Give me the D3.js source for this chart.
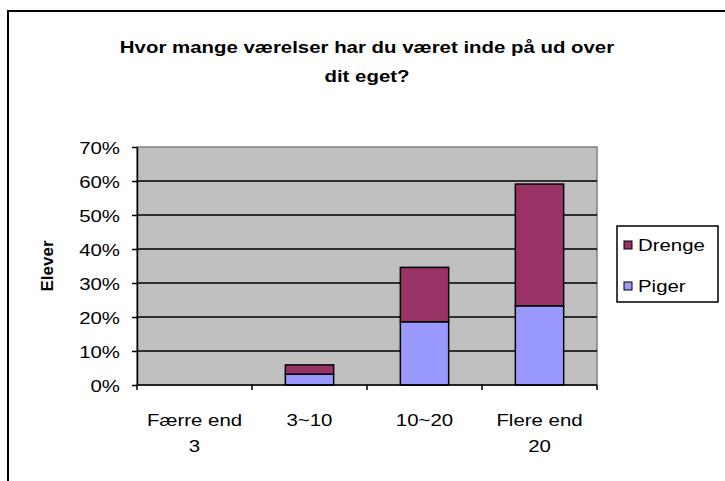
<!DOCTYPE html>
<html>
<head>
<meta charset="utf-8">
<script src="https://d3js.org/d3.v7.min.js"></script>
<style>
body { margin: 0; background: #fff; }
text { font-family: "Liberation Sans", Arial, sans-serif; fill: #000; }
</style>
</head>
<body>
<svg width="725" height="481"></svg>
<script>
// data
var categories = ["Færre end|3", "3~10", "10~20", "Flere end|20"];
var piger = [0, 3.2, 18.6, 23.3];
var drenge = [0, 2.7, 16.0, 35.8];
var seriesNames = ["Drenge", "Piger"];
var yTicks = [0, 10, 20, 30, 40, 50, 60, 70];

var svg = d3.select("svg");
var STRETCH = 1.2;
var FS = "17px";

// the source picture has wide text: stretch each label horizontally
function widen(sel, k) {
  sel.each(function(){
    var w = this.getComputedTextLength();
    d3.select(this).attr("textLength", w * (k || STRETCH)).attr("lengthAdjust", "spacingAndGlyphs");
  });
}

// outer chart border (runs past right/bottom edge)
svg.append("rect")
  .attr("x", 8).attr("y", 11)
  .attr("width", 740).attr("height", 500)
  .attr("fill", "#fff").attr("stroke", "#000").attr("stroke-width", 2);

var pLeft = 137, pRight = 597, pTop = 147, pBottom = 385;

var x = d3.scaleBand().domain(categories).range([pLeft, pRight]).paddingInner(0.58).paddingOuter(0.29);
var xb = d3.scaleBand().domain(categories).range([pLeft, pRight]);
var y = d3.scaleLinear().domain([0, 70]).range([pBottom, pTop]);

// plot area
svg.append("rect")
  .attr("x", pLeft).attr("y", pTop)
  .attr("width", pRight - pLeft).attr("height", pBottom - pTop)
  .attr("fill", "#c0c0c0").attr("stroke", "#808080").attr("stroke-width", 1.5);

// gridlines
svg.append("g").selectAll("line")
  .data(yTicks.filter(function(d){ return d > 0 && d < 70; }))
  .enter().append("line")
  .attr("x1", pLeft).attr("x2", pRight)
  .attr("y1", function(d){ return y(d); }).attr("y2", function(d){ return y(d); })
  .attr("stroke", "#000").attr("stroke-width", 1.5);

// stacked bars
var rows = categories.map(function(c, i){ return {cat: c, piger: piger[i], drenge: drenge[i]}; });
var stack = d3.stack().keys(["piger", "drenge"])(rows);
var colors = {piger: "#9999ff", drenge: "#993366"};

svg.append("g").selectAll("g")
  .data(stack).enter().append("g")
  .attr("fill", function(s){ return colors[s.key]; })
  .selectAll("rect")
  .data(function(s){ return s.filter(function(d){ return d[1] - d[0] > 0; }); })
  .enter().append("rect")
  .attr("x", function(d){ return x(d.data.cat); })
  .attr("width", x.bandwidth())
  .attr("y", function(d){ return y(d[1]); })
  .attr("height", function(d){ return y(d[0]) - y(d[1]); })
  .attr("stroke", "#000").attr("stroke-width", 1.5);

// y axis
var yAxis = svg.append("g")
  .attr("transform", "translate(" + pLeft + ",0)")
  .call(d3.axisLeft(y).tickValues(yTicks).tickFormat(function(d){ return d + "%"; }).tickSize(5).tickSizeOuter(0));
yAxis.select(".domain").attr("stroke", "#000").attr("stroke-width", 1.5);
yAxis.selectAll(".tick line").attr("stroke", "#000").attr("stroke-width", 1.5);
yAxis.selectAll(".tick text").attr("x", -17).attr("dy", "0.36em")
  .style("font-size", FS).attr("fill", "#000").attr("font-family", null);
widen(yAxis.selectAll(".tick text"));

// x axis: ticks at category boundaries
svg.append("line")
  .attr("x1", pLeft).attr("x2", pRight).attr("y1", pBottom).attr("y2", pBottom)
  .attr("stroke", "#000").attr("stroke-width", 1.5);
var bounds = categories.map(function(c){ return xb(c); }).concat([pRight]);
svg.append("g").selectAll("line")
  .data(bounds).enter().append("line")
  .attr("x1", function(d){ return d; }).attr("x2", function(d){ return d; })
  .attr("y1", pBottom).attr("y2", pBottom + 5)
  .attr("stroke", "#000").attr("stroke-width", 1.5);

var xLines = [];
categories.forEach(function(c){
  c.split("|").forEach(function(p, i){ xLines.push({cat: c, text: p, row: i}); });
});
var xl = svg.append("g").selectAll("text")
  .data(xLines).enter().append("text")
  .attr("text-anchor", "middle")
  .style("font-size", FS)
  .attr("x", function(d){ return xb(d.cat) + xb.bandwidth() / 2; })
  .attr("y", function(d){ return 426 + d.row * 26; })
  .text(function(d){ return d.text; });
widen(xl);

// title
var t1 = svg.append("text")
  .attr("text-anchor", "middle").style("font-size", FS).style("font-weight", "bold")
  .attr("x", 367).attr("y", 53)
  .text("Hvor mange værelser har du været inde på ud over");
var t2 = svg.append("text")
  .attr("text-anchor", "middle").style("font-size", FS).style("font-weight", "bold")
  .attr("x", 367).attr("y", 82)
  .text("dit eget?");
widen(t1); widen(t2);

// y axis title
svg.append("text")
  .attr("text-anchor", "middle").style("font-size", FS).style("font-weight", "bold")
  .attr("transform", "translate(53,266) rotate(-90)")
  .text("Elever");

// legend
var lg = svg.append("g");
lg.append("rect")
  .attr("x", 617).attr("y", 226).attr("width", 101).attr("height", 76)
  .attr("fill", "#fff").attr("stroke", "#000").attr("stroke-width", 1.5);
var items = lg.selectAll("g.item").data(seriesNames).enter().append("g")
  .attr("transform", function(d, i){ return "translate(624," + (245 + i * 41) + ")"; });
items.append("rect")
  .attr("x", 0).attr("y", -4).attr("width", 8).attr("height", 8)
  .attr("fill", function(d){ return d === "Drenge" ? colors.drenge : colors.piger; })
  .attr("stroke", "#000").attr("stroke-width", 1);
var lt = items.append("text")
  .attr("x", 14).attr("dy", "0.36em").style("font-size", FS)
  .text(function(d){ return d; });
widen(lt);
</script>
</body>
</html>
